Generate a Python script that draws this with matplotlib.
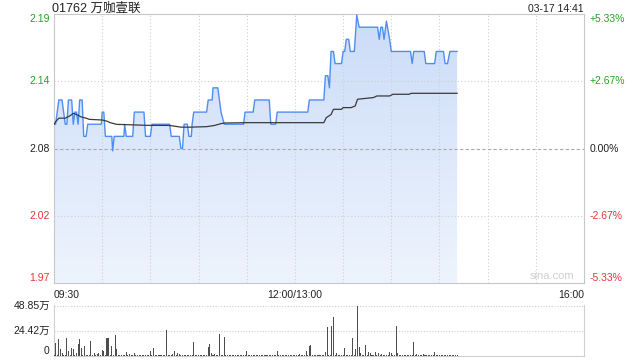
import numpy as np
import matplotlib
matplotlib.use("Agg")
import matplotlib.pyplot as plt
from matplotlib.transforms import blended_transform_factory

plt.rcParams['font.family'] = ['Liberation Sans', 'Noto Sans CJK SC', 'DejaVu Sans']

# price trace, vertices (minutes of trading since 09:30)
price_t = [0, 1, 3, 5, 6, 7, 8, 9, 11, 12, 13, 14, 15, 16, 17.5, 18.5, 20, 21, 29.5, 30,
           31, 32, 36, 36.5, 37.5, 43.5, 44, 45, 49, 50, 56, 57, 60, 61, 72, 73, 78, 79, 80, 81,
           83, 84, 85.5, 86, 87, 95, 96, 98.5, 99, 102, 103, 104, 106, 118, 119, 124, 125, 134, 135, 138,
           139, 158, 159, 168, 169, 170.5, 171.5, 172.5, 174, 175, 179, 180, 181, 182, 183.5, 184.5, 187, 188.5, 190, 201.5,
           202.5, 203.5, 204.5, 205.5, 207, 209, 210, 222, 223, 224, 230.5, 231.5, 237, 238, 242.5, 243.5, 245, 246.5, 251]
price_v = [2.10, 2.10, 2.12, 2.12, 2.11, 2.10, 2.10, 2.12, 2.12, 2.10, 2.11, 2.11, 2.10, 2.12, 2.12, 2.09, 2.09, 2.10, 2.10, 2.11,
           2.11, 2.09, 2.09, 2.078, 2.09, 2.09, 2.10, 2.09, 2.09, 2.11, 2.11, 2.09, 2.09, 2.10, 2.10, 2.09, 2.09, 2.08, 2.08, 2.10,
           2.10, 2.09, 2.09, 2.10, 2.11, 2.11, 2.12, 2.12, 2.13, 2.13, 2.12, 2.11, 2.10, 2.10, 2.11, 2.11, 2.12, 2.12, 2.10, 2.10,
           2.11, 2.11, 2.12, 2.12, 2.14, 2.14, 2.13, 2.16, 2.16, 2.15, 2.15, 2.16, 2.16, 2.17, 2.17, 2.16, 2.16, 2.19, 2.18, 2.18,
           2.17, 2.18, 2.18, 2.17, 2.185, 2.17, 2.16, 2.16, 2.15, 2.16, 2.16, 2.15, 2.15, 2.16, 2.16, 2.15, 2.15, 2.16, 2.16]

# average price line
avg_t = [0, 1, 3, 7, 10, 12, 14, 17, 20, 22, 30, 33, 35, 39, 58, 72, 79, 85, 95, 100,
         104, 106, 120, 168, 169.5, 172.5, 174, 179, 180, 185, 187.5, 189, 199, 201, 209, 211, 221, 222.5, 251]
avg_v = [2.100, 2.102, 2.105, 2.105, 2.107, 2.109, 2.108, 2.106, 2.105, 2.104, 2.1035, 2.1025, 2.1013, 2.0999, 2.0991, 2.099,
         2.0976, 2.0976, 2.098, 2.099, 2.1005, 2.101, 2.1013, 2.1013, 2.1054, 2.108, 2.1123, 2.1123, 2.1137, 2.1137, 2.115,
         2.1206, 2.122, 2.1233, 2.1233, 2.1247, 2.1247, 2.1255, 2.1255]

# per-minute volume, in 万
volume = [1.0, 12.5, 0.8, 16.6, 7.2, 3.4, 0.6, 1.2, 17.5, 5.0,
          0.8, 8.0, 7.2, 1.0, 3.4, 11.9, 16.6, 8.0, 0.9, 10.0,
          1.2, 0.7, 0.9, 14.4, 1.0, 2.8, 0.6, 1.9, 2.8, 0.8,
          6.0, 5.3, 1.0, 18.0, 18.0, 0.8, 9.7, 1.1, 21.0, 7.0,
          0.9, 0.7, 1.0, 0.6, 1.2, 4.0, 0.8, 2.0, 0.7, 0.9,
          3.0, 1.1, 0.6, 0.8, 1.0, 0.7, 0.9, 0.6, 1.2, 0.8,
          5.0, 1.0, 7.8, 0.8, 0.6, 1.0, 0.7, 0.9, 0.6, 1.1,
          25.0, 0.8, 1.0, 0.7, 2.0, 5.0, 1.2, 3.0, 2.0, 0.9,
          0.7, 1.0, 0.6, 0.8, 1.1, 0.9, 0.7, 13.5, 0.8, 1.0,
          0.6, 0.9, 1.2, 0.7, 1.0, 0.8, 8.8, 11.3, 3.0, 0.9,
          2.0, 0.7, 1.0, 21.3, 0.8, 0.6, 19.0, 1.1, 0.9, 0.7,
          1.0, 0.6, 0.8, 1.2, 0.7, 0.9, 1.0, 0.6, 0.8, 1.1,
          5.0, 0.9, 0.7, 1.0, 0.6, 0.8, 1.2, 0.7, 0.9, 1.0,
          0.6, 0.8, 1.1, 0.9, 0.7, 1.0, 0.6, 0.8, 1.2, 5.0,
          0.9, 0.7, 1.0, 0.6, 0.8, 1.1, 0.9, 0.7, 1.0, 0.6,
          0.8, 1.2, 0.7, 2.0, 0.9, 1.0, 0.6, 5.0, 0.8, 9.7,
          11.0, 0.9, 0.7, 1.0, 0.6, 0.8, 1.2, 0.7, 0.9, 4.0,
          28.5, 1.0, 0.6, 29.4, 37.9, 0.8, 3.0, 1.1, 0.9, 0.7,
          1.0, 7.5, 0.6, 0.8, 1.2, 0.7, 17.2, 0.9, 7.0, 48.85,
          9.0, 3.0, 1.0, 0.6, 10.6, 0.8, 4.0, 2.5, 1.1, 0.9,
          4.0, 0.7, 2.5, 1.0, 1.8, 0.6, 0.8, 1.2, 0.7, 4.0,
          2.5, 0.9, 1.0, 29.4, 2.5, 0.6, 0.8, 1.1, 0.9, 0.7,
          1.0, 0.6, 0.8, 1.2, 13.8, 0.7, 1.8, 0.9, 1.0, 0.6,
          1.8, 0.8, 1.1, 0.9, 0.7, 1.0, 0.6, 4.0, 0.8, 1.2,
          0.7, 0.9, 1.0, 0.6, 0.8, 1.1, 0.9, 0.7, 1.0, 0.6,
          0.8, 1.2]

prev_close = 2.08
pct_labels = ["+5.33%", "+2.67%", "0.00%", "-2.67%", "-5.33%"]
price_labels = ["2.19", "2.14", "2.08", "2.02", "1.97"]
pct_levels = [0.0533, 0.02665, 0.0, -0.02665, -0.0533]
vol_labels = ["48.85万", "24.42万", "0"]
vol_levels = [48.85, 24.42, 0]
time_labels = ["09:30", "12:00/13:00", "16:00"]
time_pos = [0, 150, 330]
title = "01762 万咖壹联"
stamp = "03-17 14:41"

green = "#22a322"
red = "#ee3333"
grid_c = "#cfcfcf"

fig = plt.figure(figsize=(6.4, 3.6), dpi=100)
ax = fig.add_axes([54 / 640, 1 - 283 / 360, 530 / 640, 269 / 360])
axv = fig.add_axes([54 / 640, 1 - 356 / 360, 530 / 640, 51 / 360])

ylo = prev_close * (1 - 0.0533)
yhi = prev_close * (1 + 0.0533)
ax.set_xlim(0, 330)
ax.set_ylim(ylo, yhi)

# gradient fill under the price line
grad = np.linspace(0, 1, 256).reshape(-1, 1)
cmap = matplotlib.colors.LinearSegmentedColormap.from_list("f", ["#eef4fd", "#cbdcf8"])
img = ax.imshow(grad, extent=[0, 330, ylo, yhi], origin="lower", aspect="auto", cmap=cmap, zorder=1)
poly_x = [price_t[0]] + price_t + [price_t[-1]]
poly_y = [ylo] + price_v + [ylo]
poly = ax.fill(poly_x, poly_y, facecolor="none", edgecolor="none")[0]
img.set_clip_path(poly)

for k in range(1, 11):
    ax.axvline(k * 30, color=grid_c, lw=0.8, ls=(0, (1, 2)), zorder=2)
for lvl in pct_levels[1:-1]:
    p = prev_close * (1 + lvl)
    if lvl == 0:
        ax.axhline(p, color="#aaaaaa", lw=0.8, ls=(0, (3, 2)), zorder=2)
    else:
        ax.axhline(p, color=grid_c, lw=0.8, ls=(0, (1, 2)), zorder=2)

ax.plot(price_t, price_v, color="#4f8ef0", lw=1.0, zorder=4)
ax.plot(avg_t, avg_v, color="#3a3a3a", lw=0.9, zorder=5)

ax.set_xticks([])
ax.set_yticks([])
for s in ax.spines.values():
    s.set_color("#c8c8c8")
    s.set_linewidth(0.8)

tr = blended_transform_factory(ax.transAxes, ax.transData)
for i, lvl in enumerate(pct_levels):
    p = prev_close * (1 + lvl)
    va = "top" if i == 0 else ("bottom" if i == len(pct_levels) - 1 else "center")
    c = green if lvl > 0 else (red if lvl < 0 else "#222222")
    ax.text(-0.008, p, price_labels[i], transform=tr, ha="right", va=va, color=c, fontsize=7.5)
    ax.text(1.011, p, pct_labels[i], transform=tr, ha="left", va=va, color=c, fontsize=7.5)

ax.text(-0.003, 1.0075, title, transform=ax.transAxes, ha="left", va="baseline", fontsize=9, color="#222222")
ax.text(1, 1.0075, stamp, transform=ax.transAxes, ha="right", va="baseline", fontsize=7.5, color="#222222")
ax.text(0.94, 0.008, "sina.com", transform=ax.transAxes, ha="center", va="bottom", fontsize=8, color="#d0d0d0")

for i, t in enumerate(time_pos):
    ha = "left" if i == 0 else ("right" if i == len(time_pos) - 1 else "center")
    ax.text(t, -0.026, time_labels[i], transform=blended_transform_factory(ax.transData, ax.transAxes),
            ha=ha, va="top", fontsize=7.5, color="#222222")

# volume panel
axv.set_xlim(0, 330)
axv.set_ylim(0, 48.85 * 1.02)
axv.bar(np.arange(len(volume)), volume, width=0.65, color="#4d4d4d", zorder=3)
for lvl in vol_levels[:2]:
    axv.axhline(lvl, color=grid_c, lw=0.8, ls=(0, (1, 1.5)), zorder=2)
axv.set_xticks([])
axv.set_yticks([])
axv.spines["top"].set_visible(False)
for s in ["left", "right", "bottom"]:
    axv.spines[s].set_color("#d0d0d0")
    axv.spines[s].set_linewidth(0.8)
trv = blended_transform_factory(axv.transAxes, axv.transData)
for i, lvl in enumerate(vol_levels):
    va = "center" if i < 2 else "bottom"
    axv.text(-0.008, lvl, vol_labels[i], transform=trv, ha="right", va=va, fontsize=7.5, color="#222222")

fig.savefig("out.png", dpi=100)
